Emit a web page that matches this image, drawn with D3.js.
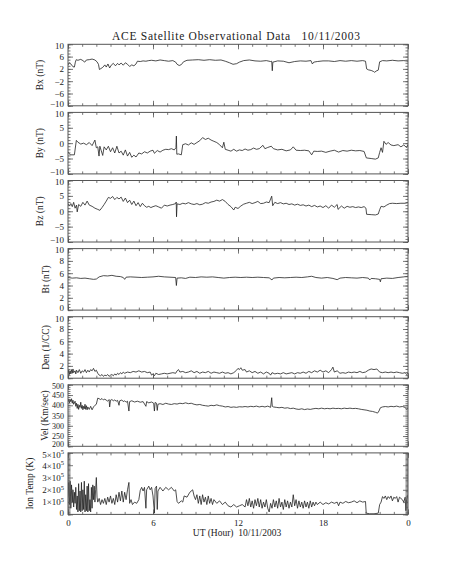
<!DOCTYPE html>
<html>
<head>
<meta charset="utf-8">
<script src="https://cdn.jsdelivr.net/npm/d3@7"></script>
<style>
  body { margin: 0; background: #fff; }
  text { font-family: "Liberation Serif", "DejaVu Serif", serif; }
</style>
</head>
<body>
<svg id="chart" width="453" height="566"></svg>
<script>
// ---- data: [UT hour, value] ----
const bx = [[0,3.3],[0.1,4.0],[0.2,3.6],[0.35,2.7],[0.45,2.6],[0.52,4.2],[0.58,5.0],[0.7,4.8],[0.9,5.1],[1.05,4.7],[1.18,4.2],[1.3,4.9],[1.5,5.0],[1.7,5.2],[1.9,4.9],[2.05,4.3],[2.15,3.5],[2.22,1.8],[2.32,2.1],[2.45,2.5],[2.6,3.3],[2.7,2.6],[2.82,3.6],[2.94,2.3],[3.05,3.2],[3.2,3.8],[3.35,3.0],[3.5,3.8],[3.6,3.3],[3.75,3.9],[3.9,3.2],[4.05,4.0],[4.2,3.5],[4.35,2.8],[4.5,3.3],[4.65,3.0],[4.8,3.6],[4.9,4.5],[5.1,4.4],[5.3,4.6],[5.5,4.5],[5.7,4.7],[5.9,4.8],[6.2,4.6],[6.5,4.9],[6.8,4.7],[7.1,4.5],[7.4,4.7],[7.6,4.2],[7.7,3.5],[7.85,3.1],[8.0,3.4],[8.15,4.3],[8.4,4.8],[8.8,4.9],[9.2,5.0],[9.6,4.8],[10.0,5.0],[10.4,4.8],[10.8,4.9],[11.1,4.5],[11.4,4.0],[11.65,3.5],[11.9,3.7],[12.1,4.2],[12.4,4.7],[12.8,4.9],[13.2,4.6],[13.6,4.5],[14.0,4.7],[14.3,4.4],[14.38,4.5],[14.42,1.4],[14.46,4.2],[14.8,4.6],[15.2,4.5],[15.6,4.0],[16.0,4.4],[16.4,4.6],[16.8,4.5],[17.15,4.7],[17.25,3.6],[17.35,4.2],[17.6,4.4],[18.0,4.6],[18.4,4.6],[18.8,4.4],[19.2,4.7],[19.6,4.5],[20.0,4.7],[20.4,4.5],[20.8,4.7],[21.0,4.5],[21.08,2.0],[21.2,1.7],[21.4,1.5],[21.55,1.2],[21.65,0.9],[21.75,1.3],[21.9,1.6],[22.0,4.3],[22.2,4.7],[22.5,4.6],[22.9,4.8],[23.3,4.6],[23.7,4.7],[24,4.5]];

const by = [[0,-2.8],[0.15,-3.8],[0.45,-3.8],[0.59,0.9],[0.7,0.3],[0.9,-0.3],[1.1,0.0],[1.3,-0.5],[1.5,0.2],[1.7,-0.8],[1.9,1.0],[2.0,-1.5],[2.1,-1.2],[2.19,-4.2],[2.25,-1.0],[2.35,-2.5],[2.45,-4.0],[2.55,-1.2],[2.7,-2.2],[2.85,-1.0],[3.0,-2.8],[3.15,-1.5],[3.3,-3.2],[3.45,-1.0],[3.6,-3.2],[3.75,-2.6],[3.9,-3.9],[4.05,-2.2],[4.2,-4.2],[4.35,-3.0],[4.5,-4.6],[4.65,-3.9],[4.8,-4.5],[5.0,-3.2],[5.2,-3.5],[5.4,-2.8],[5.6,-3.2],[5.8,-2.6],[6.0,-2.3],[6.1,-3.3],[6.3,-2.4],[6.5,-2.9],[6.7,-2.3],[6.9,-2.0],[7.1,-2.1],[7.3,-1.8],[7.5,-2.2],[7.62,-1.5],[7.65,2.3],[7.68,-3.6],[7.8,-3.5],[8.0,-3.8],[8.1,-0.5],[8.3,-0.2],[8.5,-0.6],[8.7,0.1],[8.9,-0.4],[9.1,0.2],[9.3,0.8],[9.5,1.8],[9.7,1.2],[9.9,1.6],[10.1,1.0],[10.3,0.6],[10.5,0.2],[10.7,-0.5],[10.9,-1.5],[11.0,0.3],[11.1,-2.0],[11.3,-2.3],[11.5,-2.6],[11.7,-2.0],[11.9,-2.6],[12.1,-2.2],[12.3,-2.4],[12.5,-1.9],[12.7,-2.3],[12.9,-2.1],[13.1,-1.6],[13.3,-2.0],[13.5,-1.8],[13.76,-0.7],[13.9,-1.8],[14.1,-1.4],[14.35,-1.0],[14.5,-1.8],[14.8,-2.2],[15.1,-2.0],[15.4,-2.5],[15.7,-2.2],[15.9,-1.2],[16.1,-2.3],[16.4,-2.4],[16.7,-2.3],[17.0,-2.5],[17.2,-3.8],[17.35,-2.6],[17.6,-2.7],[17.9,-2.6],[18.2,-3.0],[18.5,-2.6],[18.8,-2.3],[19.1,-2.9],[19.4,-2.4],[19.7,-2.6],[20.0,-2.3],[20.3,-2.5],[20.6,-2.4],[20.9,-2.7],[21.06,-4.8],[21.4,-5.0],[21.7,-5.2],[21.9,-4.8],[22.0,-3.0],[22.1,-1.5],[22.2,-3.0],[22.3,0.6],[22.45,-0.4],[22.6,0.2],[22.8,-0.6],[23.0,-0.8],[23.3,-0.5],[23.5,-1.2],[23.7,-0.6],[23.9,-1.4],[24,-0.4]];

const bz = [[0,2.5],[0.1,1.8],[0.2,2.5],[0.3,1.5],[0.4,2.9],[0.5,1.0],[0.6,2.0],[0.65,-0.2],[0.75,2.2],[0.9,1.6],[1.05,2.9],[1.2,2.0],[1.35,3.3],[1.5,2.0],[1.7,1.6],[1.9,1.0],[2.1,0.6],[2.25,0.3],[2.4,1.2],[2.55,2.2],[2.7,3.3],[2.85,4.5],[3.0,4.2],[3.15,4.8],[3.3,3.8],[3.45,4.5],[3.6,4.0],[3.75,4.6],[3.9,3.2],[4.05,4.3],[4.2,2.8],[4.35,3.6],[4.5,2.2],[4.65,3.3],[4.8,1.8],[4.95,2.8],[5.1,1.5],[5.25,2.6],[5.4,1.8],[5.55,1.3],[5.7,1.6],[5.85,1.2],[6.0,1.5],[6.2,1.8],[6.4,1.4],[6.6,1.0],[6.8,2.0],[7.0,1.7],[7.2,2.0],[7.4,2.2],[7.6,2.5],[7.64,3.0],[7.66,-1.8],[7.7,2.4],[7.9,2.2],[8.1,2.6],[8.3,2.4],[8.5,2.8],[8.7,2.4],[8.9,2.2],[9.1,2.5],[9.3,2.1],[9.5,2.3],[9.7,2.8],[9.9,2.6],[10.1,3.0],[10.3,3.2],[10.5,3.6],[10.7,3.3],[10.9,3.8],[11.1,3.2],[11.3,2.2],[11.5,1.5],[11.7,0.4],[11.8,1.3],[12.0,0.9],[12.2,1.7],[12.4,2.3],[12.6,2.6],[12.8,2.9],[13.0,2.5],[13.2,2.8],[13.4,3.2],[13.6,2.5],[13.8,2.6],[14.0,3.0],[14.2,2.8],[14.38,4.9],[14.45,1.8],[14.6,2.9],[14.8,2.5],[15.0,2.8],[15.2,2.4],[15.4,2.6],[15.6,2.2],[15.8,2.4],[16.0,2.0],[16.2,2.3],[16.4,1.9],[16.6,2.1],[16.8,1.7],[17.0,2.0],[17.2,1.5],[17.4,1.9],[17.6,1.4],[17.8,1.7],[18.0,1.2],[18.2,1.8],[18.4,1.0],[18.6,2.0],[18.8,1.3],[19.0,2.2],[19.06,0.6],[19.3,1.7],[19.5,1.0],[19.7,1.6],[19.9,1.3],[20.1,1.5],[20.3,1.2],[20.5,1.4],[20.7,1.2],[20.9,1.5],[21.03,1.0],[21.08,-1.0],[21.4,-1.1],[21.7,-1.2],[21.9,-0.9],[22.0,0.5],[22.1,1.6],[22.3,1.4],[22.5,2.0],[22.7,2.5],[22.9,2.6],[23.2,2.5],[23.5,2.6],[23.8,2.6],[24,2.8]];

const bt = [[0,5.3],[0.3,5.2],[0.6,5.25],[0.9,5.15],[1.2,5.2],[1.5,5.1],[1.8,5.0],[2.0,5.05],[2.2,5.4],[2.5,5.6],[2.8,5.55],[3.1,5.65],[3.4,5.5],[3.7,5.45],[3.9,5.3],[4.0,5.0],[4.1,5.35],[4.4,5.4],[4.8,5.35],[5.2,5.3],[5.6,5.35],[6.0,5.4],[6.4,5.5],[6.8,5.4],[7.2,5.35],[7.6,5.3],[7.65,4.0],[7.7,5.2],[8.0,5.25],[8.3,5.15],[8.6,5.35],[9.0,5.3],[9.4,5.4],[9.8,5.35],[10.2,5.4],[10.6,5.3],[11.0,5.2],[11.4,5.3],[11.8,5.35],[12.2,5.3],[12.6,5.35],[13.0,5.3],[13.4,5.35],[13.8,5.3],[14.2,5.25],[14.4,4.9],[14.5,5.2],[14.9,5.3],[15.3,5.25],[15.7,5.3],[16.1,5.35],[16.5,5.3],[16.9,5.4],[17.2,5.5],[17.5,5.3],[17.9,5.2],[18.3,5.3],[18.7,5.15],[19.0,4.95],[19.2,5.2],[19.6,5.3],[20.0,5.25],[20.4,5.2],[20.8,5.3],[21.2,5.2],[21.3,4.9],[21.4,5.15],[21.7,5.1],[22.0,5.0],[22.05,4.6],[22.1,5.1],[22.5,5.2],[22.9,5.15],[23.3,5.3],[23.7,5.4],[24,5.5]];

const den = [[0,0.8],[0.05,1.3],[0.1,0.6],[0.15,1.2],[0.2,0.7],[0.25,1.4],[0.3,0.8],[0.35,1.5],[0.4,0.9],[0.5,1.2],[0.55,0.7],[0.6,1.3],[0.7,0.9],[0.8,1.4],[0.9,0.8],[1.0,1.2],[1.1,1.0],[1.2,1.4],[1.3,0.9],[1.4,1.3],[1.5,1.0],[1.6,1.4],[1.7,1.2],[1.8,1.6],[1.9,1.1],[2.0,1.3],[2.1,0.8],[2.2,0.5],[2.3,0.4],[2.4,0.6],[2.5,0.3],[2.6,0.5],[2.7,0.4],[2.8,0.6],[2.9,0.3],[3.0,0.5],[3.1,0.6],[3.2,0.4],[3.3,0.7],[3.4,0.5],[3.5,0.8],[3.6,0.6],[3.7,0.9],[3.8,0.7],[3.9,1.0],[4.0,0.8],[4.2,1.0],[4.4,0.9],[4.6,1.1],[4.8,1.0],[5.0,1.2],[5.2,1.0],[5.4,1.1],[5.6,0.9],[5.8,1.0],[5.9,0.5],[6.0,0.7],[6.1,0.4],[6.2,0.8],[6.4,0.6],[6.6,0.7],[6.8,0.8],[7.0,0.7],[7.2,0.8],[7.4,0.9],[7.6,0.8],[7.7,1.2],[7.8,1.4],[7.9,1.0],[8.1,1.1],[8.3,0.9],[8.5,1.0],[8.7,1.2],[8.9,0.9],[9.1,1.1],[9.3,0.8],[9.5,1.0],[9.7,0.9],[9.9,1.1],[10.1,0.8],[10.3,1.0],[10.5,0.9],[10.7,0.8],[10.9,1.0],[11.1,0.8],[11.3,0.9],[11.5,0.7],[11.7,0.9],[11.9,1.3],[12.0,1.6],[12.1,1.4],[12.2,1.7],[12.3,1.3],[12.5,1.4],[12.6,1.0],[12.8,1.2],[13.0,0.9],[13.2,1.1],[13.4,0.8],[13.6,1.0],[13.8,0.7],[14.0,1.0],[14.2,0.8],[14.3,0.5],[14.4,0.9],[14.6,0.7],[14.8,0.8],[15.0,0.7],[15.2,0.9],[15.4,0.7],[15.6,0.8],[15.8,0.9],[16.0,0.7],[16.2,0.9],[16.4,0.8],[16.6,1.0],[16.8,0.8],[17.0,1.1],[17.2,0.9],[17.4,1.2],[17.6,1.0],[17.8,1.3],[18.0,1.0],[18.2,1.2],[18.4,0.9],[18.6,1.4],[18.7,1.8],[18.8,1.0],[19.0,1.2],[19.2,0.8],[19.4,0.9],[19.6,0.8],[19.8,1.0],[20.0,0.9],[20.2,1.0],[20.4,0.9],[20.6,1.1],[20.8,0.9],[21.0,1.0],[21.2,1.3],[21.4,1.5],[21.6,1.4],[21.8,1.5],[22.0,1.0],[22.2,0.9],[22.4,1.0],[22.6,0.9],[22.8,1.0],[23.0,0.9],[23.2,1.0],[23.4,0.9],[23.6,0.8],[23.8,0.9],[23.9,0.6],[24,0.8]];

const vel = [[0,420],[0.05,430],[0.1,412],[0.15,428],[0.2,418],[0.25,432],[0.3,410],[0.35,425],[0.4,405],[0.5,420],[0.55,395],[0.6,410],[0.65,385],[0.7,405],[0.75,380],[0.8,400],[0.85,390],[0.9,415],[0.95,385],[1.0,400],[1.05,378],[1.1,395],[1.15,383],[1.2,405],[1.25,380],[1.3,398],[1.35,378],[1.4,392],[1.5,380],[1.6,395],[1.7,378],[1.8,392],[1.9,400],[2.0,405],[2.1,435],[2.2,432],[2.3,428],[2.4,433],[2.5,426],[2.6,430],[2.7,425],[2.8,420],[2.9,428],[2.94,392],[3.0,425],[3.1,428],[3.2,422],[3.3,426],[3.4,420],[3.5,424],[3.6,400],[3.65,422],[3.8,426],[3.9,418],[4.0,422],[4.1,415],[4.2,420],[4.3,372],[4.35,418],[4.5,422],[4.7,416],[4.9,420],[5.1,415],[5.3,418],[5.5,395],[5.55,418],[5.7,412],[5.9,416],[6.05,410],[6.1,372],[6.15,414],[6.25,410],[6.3,375],[6.35,405],[6.5,408],[6.7,404],[6.9,410],[7.1,406],[7.3,404],[7.5,408],[7.7,406],[7.9,410],[8.1,408],[8.3,412],[8.5,408],[8.7,410],[8.9,405],[9.1,402],[9.3,404],[9.5,400],[9.7,398],[9.9,396],[10.1,400],[10.3,398],[10.5,402],[10.7,398],[10.9,396],[11.1,392],[11.3,394],[11.5,390],[11.7,392],[11.9,390],[12.1,393],[12.3,392],[12.5,394],[12.7,392],[12.9,395],[13.1,393],[13.3,396],[13.5,392],[13.7,395],[13.9,392],[14.1,396],[14.3,390],[14.38,437],[14.42,395],[14.5,392],[14.7,390],[14.9,388],[15.1,390],[15.3,386],[15.5,388],[15.7,384],[15.9,386],[16.1,382],[16.3,380],[16.5,383],[16.7,379],[16.9,382],[17.1,380],[17.3,383],[17.5,385],[17.7,383],[17.9,386],[18.1,383],[18.3,385],[18.5,383],[18.7,386],[18.9,384],[19.1,385],[19.3,383],[19.5,386],[19.7,384],[19.9,386],[20.1,384],[20.3,385],[20.5,383],[20.7,380],[20.9,378],[21.1,376],[21.3,372],[21.5,370],[21.7,366],[21.85,362],[21.95,372],[22.05,388],[22.2,392],[22.4,394],[22.6,392],[22.8,395],[23.0,393],[23.2,396],[23.4,392],[23.6,394],[23.8,390],[23.9,380],[24,388]];

// ion temperature in units of 10^5 K
const temp = [[0,1.5],[0.05,2.6],[0.1,0.8],[0.15,2.7],[0.2,0.5],[0.25,2.4],[0.3,1.0],[0.35,2.0],[0.4,0.6],[0.45,1.8],[0.5,0.9],[0.55,2.2],[0.6,0.4],[0.65,1.5],[0.7,0.2],[0.75,2.5],[0.8,0.3],[0.85,1.9],[0.9,0.2],[0.95,2.6],[1.0,0.3],[1.05,2.0],[1.1,0.4],[1.15,2.7],[1.2,0.2],[1.25,1.6],[1.3,0.3],[1.35,2.3],[1.4,0.2],[1.45,2.5],[1.5,0.3],[1.55,1.2],[1.6,0.2],[1.65,2.2],[1.7,0.5],[1.75,2.4],[1.8,1.2],[1.85,2.3],[1.9,1.0],[1.95,2.0],[2.0,3.0],[2.05,1.4],[2.1,1.0],[2.2,1.3],[2.3,0.8],[2.4,1.2],[2.5,0.9],[2.6,1.3],[2.7,0.8],[2.8,1.4],[2.9,1.0],[3.0,1.5],[3.1,0.9],[3.2,1.3],[3.3,0.8],[3.4,1.6],[3.5,1.0],[3.6,1.8],[3.7,1.1],[3.8,1.9],[3.9,1.0],[4.0,1.8],[4.1,1.2],[4.2,2.0],[4.3,2.6],[4.35,0.9],[4.45,1.2],[4.55,0.8],[4.7,1.0],[4.85,0.9],[5.0,1.2],[5.1,1.95],[5.2,2.2],[5.3,1.9],[5.4,2.2],[5.5,0.5],[5.55,2.0],[5.7,2.3],[5.8,2.0],[5.9,2.2],[6.0,1.5],[6.1,0.1],[6.15,2.1],[6.25,2.3],[6.3,0.4],[6.35,1.9],[6.5,2.2],[6.7,1.9],[6.9,2.2],[7.1,2.0],[7.3,2.2],[7.5,1.9],[7.6,2.0],[7.7,1.05],[7.8,0.9],[8.0,1.1],[8.1,1.0],[8.2,1.5],[8.4,1.4],[8.6,1.8],[8.8,2.0],[8.9,1.5],[9.0,1.2],[9.1,1.6],[9.2,0.9],[9.3,1.5],[9.4,0.8],[9.5,1.6],[9.6,1.0],[9.7,1.4],[9.8,0.8],[9.9,1.5],[10.0,0.9],[10.1,1.3],[10.2,0.8],[10.3,1.2],[10.5,0.9],[10.7,1.1],[10.9,0.8],[11.1,1.0],[11.3,0.7],[11.5,0.6],[11.7,0.8],[11.9,0.6],[12.1,0.7],[12.3,0.8],[12.5,0.6],[12.6,1.2],[12.7,0.7],[12.8,1.3],[12.9,0.6],[13.0,1.1],[13.1,0.5],[13.2,1.2],[13.3,0.7],[13.4,1.3],[13.5,0.6],[13.6,1.2],[13.7,0.5],[13.8,1.0],[13.9,0.6],[14.0,1.2],[14.1,0.5],[14.2,0.2],[14.3,0.9],[14.4,0.5],[14.5,1.2],[14.6,0.6],[14.7,1.1],[14.8,0.5],[14.9,1.3],[15.0,0.6],[15.1,1.0],[15.2,0.4],[15.3,1.2],[15.4,0.6],[15.5,1.1],[15.6,0.5],[15.7,1.0],[15.8,0.6],[15.9,1.6],[16.0,0.7],[16.1,1.2],[16.2,0.5],[16.3,1.1],[16.4,0.6],[16.5,1.0],[16.6,0.5],[16.7,1.1],[16.8,0.6],[16.9,1.0],[17.0,0.5],[17.1,1.1],[17.2,0.6],[17.3,1.0],[17.4,0.7],[17.5,1.0],[17.6,0.8],[17.8,1.0],[18.0,0.8],[18.2,0.95],[18.4,0.85],[18.6,1.0],[18.8,0.9],[19.0,1.0],[19.1,0.7],[19.2,1.0],[19.4,0.9],[19.6,1.05],[19.8,0.95],[20.0,1.0],[20.2,1.1],[20.4,0.95],[20.6,1.1],[20.8,1.0],[21.0,1.05],[21.05,0.1],[21.3,0.05],[21.6,0.05],[21.9,0.1],[22.0,0.8],[22.1,1.0],[22.2,1.45],[22.3,1.3],[22.4,1.5],[22.5,1.2],[22.6,1.45],[22.7,1.3],[22.8,1.5],[22.9,1.1],[23.0,1.4],[23.1,1.3],[23.2,1.45],[23.3,1.0],[23.4,1.4],[23.5,1.3],[23.6,1.2],[23.7,1.0],[23.8,1.4],[23.85,0.3],[23.9,1.2],[24,1.6]];

// ---- axis ticks ----
const hourTicks = [0, 6, 12, 18, 24];
const hourLabels = ['0', '6', '12', '18', '0'];
const bxTicks = [-10, -6, -2, 2, 6, 10];
const byTicks = [-10, -5, 0, 5, 10];
const btTicks = [0, 2, 4, 6, 8, 10];
const velTicks = [200, 250, 300, 350, 400, 450, 500];
const tempTicks = [0, 1, 2, 3, 4, 5];

const panels = [
    {data: bx, label: 'Bx (nT)', domain: [-10, 10], ticks: bxTicks, minor: 1, lx: 40},
    {data: by, label: 'By (nT)', domain: [-10, 10], ticks: byTicks, minor: 1, lx: 40},
    {data: bz, label: 'Bz (nT)', domain: [-10, 10], ticks: byTicks, minor: 1, lx: 40},
    {data: bt, label: 'Bt (nT)', domain: [0, 10], ticks: btTicks, minor: 0.5, lx: 46},
    {data: den, label: 'Den (1/CC)', domain: [0, 10], ticks: btTicks, minor: 0.5, lx: 46},
    {data: vel, label: 'Vel (Km/sec)', domain: [200, 500], ticks: velTicks, minor: 10, lx: 45, fs: 8},
    {data: temp, label: 'Ion Temp (K)', domain: [0, 5], ticks: tempTicks, minor: 0.1, lx: 30, sci: true}
];

const svg = d3.select('#chart');
const left = 68, right = 408;
const top0 = 44.3, step = 68.1, ph = 61.5;
const ink = '#222', frame = '#555', textInk = '#222';
const fs = 9;

const x = d3.scaleLinear().domain([0, 24]).range([left, right]);

svg.append('text')
    .attr('x', 236).attr('y', 40)
    .attr('text-anchor', 'middle')
    .attr('font-size', 11.5)
    .attr('textLength', 248)
    .style('white-space', 'pre')
    .attr('fill', textInk)
    .text('ACE Satellite Observational Data   10/11/2003');

function styleAxis(g) {
    g.select('.domain').remove();
    g.selectAll('line').attr('stroke', frame).attr('stroke-width', 0.8);
    g.selectAll('text').attr('font-family', '"Liberation Serif", serif').attr('font-size', fs).attr('fill', textInk);
}

panels.forEach((p, i) => {
    const t = top0 + i * step;
    const y = d3.scaleLinear().domain(p.domain).range([t + ph, t]);
    const g = svg.append('g');
    const last = i === panels.length - 1;

    g.append('clipPath').attr('id', 'clip' + i)
        .append('rect').attr('x', left).attr('y', t).attr('width', right - left).attr('height', ph);

    g.append('path')
        .datum(p.data)
        .attr('clip-path', `url(#clip${i})`)
        .attr('fill', 'none')
        .attr('stroke', ink)
        .attr('stroke-width', 0.8)
        .attr('d', d3.line().x(d => x(d[0])).y(d => y(d[1])));

    const minorY = d3.range(p.domain[0], p.domain[1] + 1e-9, p.minor);
    const minorX = d3.range(0, 24.001, 1);

    // left axis with labels; end labels nudged inside so neighbouring panels do not collide
    const yl = g.append('g').attr('transform', `translate(${left},0)`)
        .call(d3.axisLeft(y).tickValues(p.ticks).tickSize(-5).tickPadding(4)
            .tickFormat(d => p.sci ? '' : d3.format('d')(d)))
        .call(styleAxis);
    yl.selectAll('.tick text')
        .attr('font-size', p.fs || fs)
        .attr('y', d => d === p.domain[1] ? 1.5 : d === p.domain[0] ? -2 : 0);
    g.append('g').attr('transform', `translate(${left},0)`)
        .call(d3.axisLeft(y).tickValues(minorY).tickSize(-2.5).tickFormat(''))
        .call(styleAxis);
    if (p.sci) {
        yl.selectAll('.tick text').each(function(d) {
            const s = d3.select(this);
            if (d === 0) { s.text('0'); return; }
            s.append('tspan').text(d + '×10');
            s.append('tspan').attr('dy', -3.5).attr('font-size', 6.5).text('5');
        });
    }
    // right axis
    g.append('g').attr('transform', `translate(${right},0)`)
        .call(d3.axisRight(y).tickValues(p.ticks).tickSize(-5).tickFormat(''))
        .call(styleAxis);
    g.append('g').attr('transform', `translate(${right},0)`)
        .call(d3.axisRight(y).tickValues(minorY).tickSize(-2.5).tickFormat(''))
        .call(styleAxis);
    // top and bottom axes
    g.append('g').attr('transform', `translate(0,${t})`)
        .call(d3.axisTop(x).tickValues(hourTicks).tickSize(-5).tickFormat(''))
        .call(styleAxis);
    g.append('g').attr('transform', `translate(0,${t})`)
        .call(d3.axisTop(x).tickValues(minorX).tickSize(-2.5).tickFormat(''))
        .call(styleAxis);
    g.append('g').attr('transform', `translate(0,${t + ph})`)
        .call(d3.axisBottom(x).tickValues(hourTicks).tickSize(-5).tickPadding(5)
            .tickFormat((d, k) => last ? hourLabels[k] : ''))
        .call(styleAxis);
    g.append('g').attr('transform', `translate(0,${t + ph})`)
        .call(d3.axisBottom(x).tickValues(minorX).tickSize(-2.5).tickFormat(''))
        .call(styleAxis);

    g.append('rect')
        .attr('x', left).attr('y', t).attr('width', right - left).attr('height', ph)
        .attr('fill', 'none').attr('stroke', frame).attr('stroke-width', 1);

    g.append('text')
        .attr('transform', `translate(${p.lx},${t + ph / 2}) rotate(-90)`)
        .attr('text-anchor', 'middle')
        .attr('dy', '0.35em')
        .attr('font-size', fs + 0.5)
        .attr('fill', textInk)
        .text(p.label);
});

svg.append('text')
    .attr('x', 237).attr('y', 536)
    .attr('text-anchor', 'middle')
    .attr('font-size', fs + 0.5)
    .style('white-space', 'pre')
    .attr('fill', textInk)
    .text('UT (Hour)  10/11/2003');
</script>
</body>
</html>
